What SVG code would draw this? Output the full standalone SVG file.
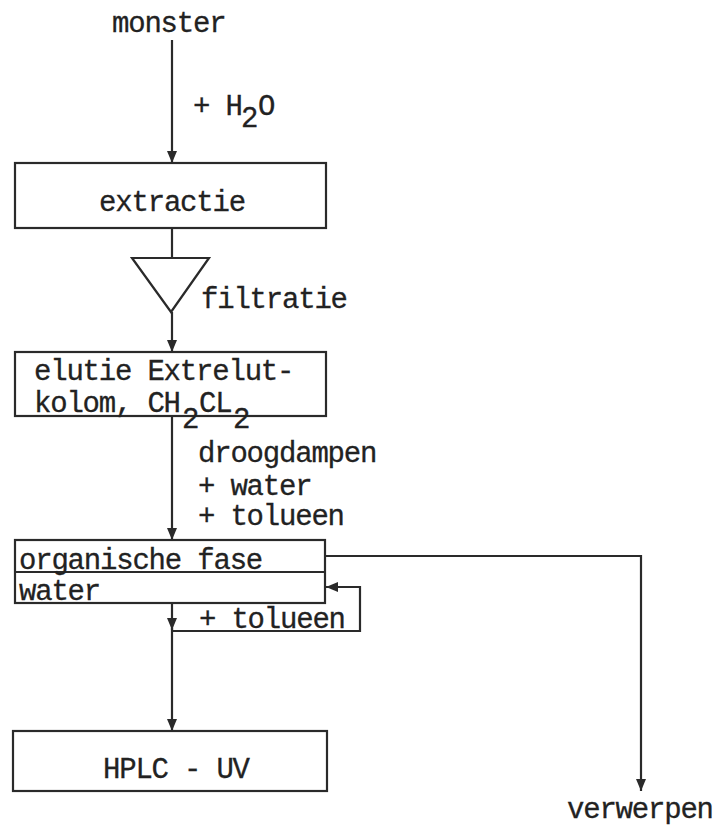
<svg xmlns="http://www.w3.org/2000/svg" width="720" height="828" viewBox="0 0 720 828">
<defs>
<marker id="ah" markerUnits="userSpaceOnUse" markerWidth="12" markerHeight="12" viewBox="0 0 12 12" refX="12" refY="6" orient="auto">
<path d="M0,1 L12,6 L0,11 Z" fill="#2a2a2a"/>
</marker>
</defs>
<style>
.box{fill:none;stroke:#2a2a2a;stroke-width:2.2}
.ln{fill:none;stroke:#2a2a2a;stroke-width:2.2}
.arr{fill:none;stroke:#2a2a2a;stroke-width:2.2;marker-end:url(#ah)}
text{font-family:"Liberation Mono","DejaVu Sans Mono",monospace;font-size:29px;letter-spacing:-1.2px;fill:#222;stroke:#222;stroke-width:0.3}
</style>
<rect width="720" height="828" fill="#ffffff"/>
<g id="connectors">
<line class="arr" x1="172" y1="40" x2="172" y2="163"/>
<line class="ln" x1="172" y1="228" x2="172" y2="258"/>
<line class="arr" x1="172" y1="312" x2="172" y2="352"/>
<line class="arr" x1="172" y1="416" x2="172" y2="540"/>
<line class="arr" x1="172" y1="603" x2="172" y2="630"/>
<line class="arr" x1="172" y1="628" x2="172" y2="731"/>
<polyline class="arr" points="172,631 360,631 360,587 326,587"/>
<polyline class="arr" points="325,556 641,556 641,791"/>
</g>
<g id="monster"><text x="112" y="32">monster</text></g>
<g id="h2o"><text x="193" y="115">+ H<tspan x="241" y="127">2</tspan><tspan x="258" y="115">O</tspan></text></g>
<g id="extractie">
<rect class="box" x="15" y="163" width="311" height="65"/>
<text x="172" y="211" text-anchor="middle">extractie</text>
</g>
<g id="filtratie">
<polygon class="box" points="132,258 209,258 171,312"/>
<text x="201" y="308">filtratie</text>
</g>
<g id="elutie">
<rect class="box" x="15" y="352" width="311" height="64"/>
<text x="34" y="380">elutie Extrelut-</text>
<text x="34" y="412">kolom, CH<tspan x="182" y="428">2</tspan><tspan x="199" y="412">CL</tspan><tspan x="233" y="428">2</tspan></text>
</g>
<g id="droogdampen">
<text x="198" y="462">droogdampen</text>
<text x="198" y="495">+ water</text>
<text x="198" y="525">+ tolueen</text>
</g>
<g id="fasen">
<rect class="box" x="15" y="540" width="310" height="63"/>
<line class="ln" x1="15" y1="572" x2="325" y2="572"/>
<text x="19" y="569">organische fase</text>
<text x="19" y="600">water</text>
</g>
<g id="tolueen2"><text x="199" y="628">+ tolueen</text></g>
<g id="hplc">
<rect class="box" x="13" y="731" width="314" height="60"/>
<text x="103" y="778">HPLC - UV</text>
</g>
<g id="verwerpen"><text x="567" y="818">verwerpen</text></g>
</svg>
